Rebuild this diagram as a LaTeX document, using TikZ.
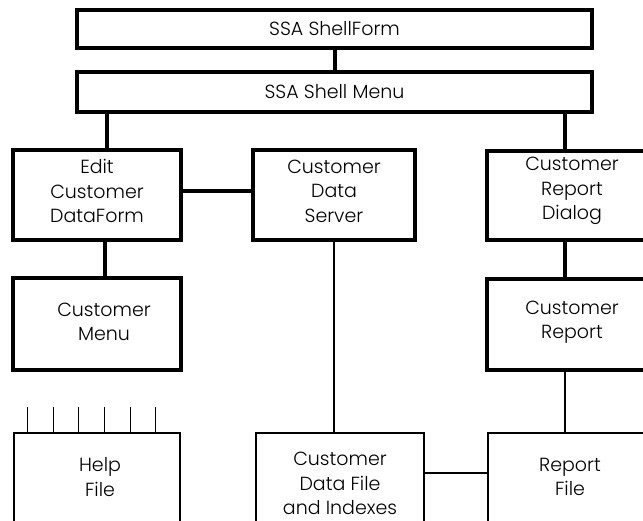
\documentclass[tikz,border=0pt]{standalone}
\usepackage{fontspec}
\setmainfont{Poppins Light}
\begin{document}
\begin{tikzpicture}[x=1pt,y=-1pt,
  heavy/.style={line width=4pt},
  light/.style={line width=1.5pt},
  modbox/.style={draw,heavy,rectangle,inner sep=0pt,fill=white},
  filebox/.style={draw,light,rectangle,inner sep=0pt,fill=white},
  txt/.style={align=center,font=\fontsize{19}{24.5}\selectfont,inner sep=0pt}]
\clip (0,0) rectangle (643,520);
\fill[white] (0,0) rectangle (643,520);

% top-level forms
\node[modbox,minimum width=515,minimum height=38] (sf) at (334.5,29) {};
\node[txt] (sft) at (334.5,29) {SSA ShellForm};
\node[modbox,minimum width=515,minimum height=40] (sm) at (334.5,92) {};
\node[txt] (smt) at (334.5,92) {SSA Shell Menu};

% second row
\node[modbox,minimum width=168,minimum height=90] (edit) at (97,195) {};
\node[txt] (editt) at (97,191) {Edit\\Customer\\DataForm};
\node[modbox,minimum width=162,minimum height=90] (cds) at (334,195) {};
\node[txt] (cdst) at (334,191) {Customer\\Data\\Server};
\node[modbox,minimum width=170,minimum height=89] (crd) at (572,195.5) {};
\node[txt] (crdt) at (572,191) {Customer\\Report\\Dialog};

% third row
\node[modbox,minimum width=168,minimum height=92] (menu) at (97,324) {};
\node[txt] (menut) at (104,322) {Customer\\Menu};
\node[modbox,minimum width=170,minimum height=91] (crep) at (572,324.5) {};
\node[txt] (crept) at (572,322) {Customer\\Report};

% data files
\node[filebox,minimum width=166,minimum height=130,anchor=north] (help) at (97,432) {};
\node[txt] (helpt) at (100,477) {Help\\File};
\node[filebox,minimum width=168,minimum height=130,anchor=north] (cdf) at (340,432) {};
\node[txt] (cdft) at (340,483.5) {Customer\\Data File\\and Indexes};
\node[filebox,minimum width=170,minimum height=130,anchor=north] (rf) at (573,432) {};
\node[txt] (rft) at (570,477) {Report\\File};

% module connections
\draw[heavy] (sf.south) -- (sm.north);
\draw[heavy] ([xshift=10pt]edit.north) -- ([xshift=10pt]edit.north |- sm.south);
\draw[heavy] ([xshift=-7pt]crd.north) -- ([xshift=-7pt]crd.north |- sm.south);
\draw[heavy] ([yshift=4pt]edit.east) -- ([yshift=4pt]edit.east -| cds.west);
\draw[heavy] ([xshift=8pt]edit.south) -- ([xshift=8pt]edit.south |- menu.north);
\draw[heavy] ([xshift=-7pt]crd.south) -- ([xshift=-7pt]crd.south |- crep.north);

% file access
\draw[light] (cds.south) -- (cds.south |- cdf.north);
\draw[light] ([xshift=-7pt]crep.south) -- ([xshift=-7pt]crep.south |- rf.north);
\draw[light] ([yshift=-41pt]cdf.north east) -- ([yshift=-41pt]cdf.north east -| rf.west);

% tabs on the help file
\foreach \dx in {14,40,65,91,117,142}
  \draw[light] ([xshift=\dx pt]help.north west) -- ++(0,-25);
\end{tikzpicture}
\end{document}
